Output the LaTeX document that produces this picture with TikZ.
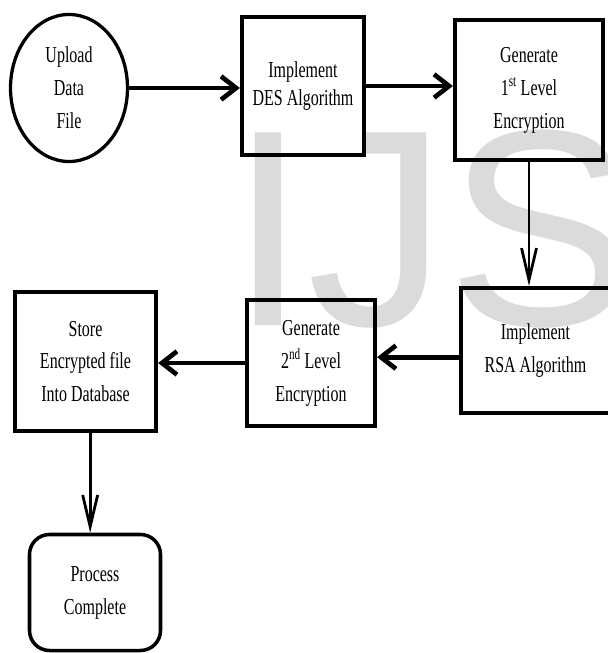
\documentclass[tikz,border=0pt]{standalone}
\usepackage{fontspec}
\setmainfont{Liberation Serif}[FakeStretch=0.70]
\newfontfamily\wmfont{Liberation Sans}
\usetikzlibrary{shapes.geometric,arrows.meta}
\tikzset{
  stepbox/.style={draw,line width=3.6pt,align=center,inner sep=0pt,
    font=\fontsize{19.5}{28.1}\selectfont},
  startnode/.style={stepbox,ellipse,line width=2.8pt},
  endnode/.style={stepbox,rounded corners=0.6cm,line width=3pt},
  harrow/.style={line width=4pt,-{Straight Barb[length=0.45cm,width=0.7cm]}},
  varrow/.style={line width=2.4pt,-{Straight Barb[length=0.95cm,width=0.45cm]}}
}
\begin{document}
\begin{tikzpicture}[x=0.03cm,y=-0.03cm]
      \useasboundingbox (0,0) rectangle (607,653);
      % watermark
      \node[anchor=base west,inner sep=0pt,text=black!14,
        font=\wmfont\fontsize{239}{239}\selectfont] (wm) at (229,325) {IJS};
      % first row
      \node[startnode,minimum width=3.51cm,minimum height=4.41cm] (upload) at (69,88) {Upload\\Data\\File};
      \node[stepbox,minimum width=3.66cm,minimum height=4.14cm,
        font=\fontsize{19.5}{23.8}\selectfont] (des) at (303,86) {Implement\\DES Algorithm};
      \node[stepbox,minimum width=4.44cm,minimum height=4.2cm] (gen1) at (529,90) {Generate\\1\textsuperscript{st}\,Level\\Encryption};
      % second row
      \node[stepbox,minimum width=4.47cm,minimum height=3.75cm] (rsa) at (535.5,350.5) {Implement\\RSA Algorithm};
      \node[stepbox,minimum width=3.84cm,minimum height=3.78cm] (gen2) at (311,363) {Generate\\2\textsuperscript{nd}\,Level\\Encryption};
      \node[stepbox,minimum width=4.23cm,minimum height=4.17cm] (store) at (85.5,361.5) {Store\\Encrypted file\\Into Database};
      % last
      \node[endnode,minimum width=3.93cm,minimum height=3.48cm] (done) at (95,592.5) {Process\\Complete};
      % arrows
      \draw[harrow] (upload.east) -- (upload.east -| des.west);
      \draw[harrow] (des.east) -- (des.east -| gen1.west);
      \draw[varrow] (gen1.south) -- (gen1.south |- rsa.north);
      \draw[harrow] ([yshift=-0.2cm]rsa.west) -- ([yshift=-0.2cm]rsa.west -| gen2.east);
      \draw[harrow] (gen2.west) -- (gen2.west -| store.east);
      \draw[varrow] ([xshift=0.14cm]store.south) -- ([xshift=0.14cm]store.south |- done.north);
\end{tikzpicture}
\end{document}
